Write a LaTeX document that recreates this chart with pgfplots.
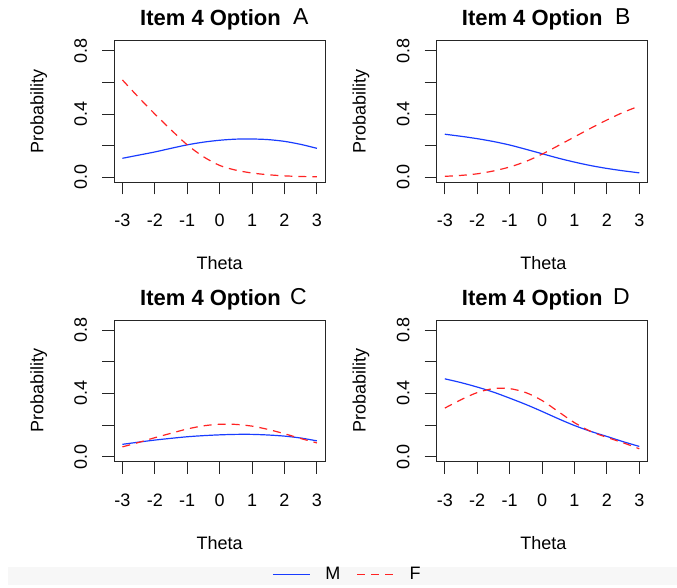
\documentclass[border=0pt]{standalone}
\usepackage{fontspec}
\setmainfont{Liberation Sans}
\usepackage{pgfplots}
\pgfplotsset{compat=1.18}

\definecolor{mblue}{RGB}{25,60,255}
\definecolor{fred}{RGB}{255,35,35}

\pgfplotsset{
  panel/.style={
    scale only axis,
    width=210.7pt, height=141.6pt,
    anchor=south west,
    xmin=-3.25, xmax=3.25,
    ymin=-0.0316, ymax=0.863,
    xtick={-3,-2,-1,0,1,2,3},
    ytick={0,0.4,0.8},
    minor ytick={0.2,0.6},
    xtick pos=bottom, ytick pos=left,
    tick align=outside,
    major tick length=12pt, minor tick length=12pt,
    every tick/.style={black!85, line width=0.9pt},
    minor tick style={black!85, line width=0.9pt},
    axis line style={black!85, line width=0.9pt},
    /pgf/number format/assume math mode=true,
    tick label style={font=\fontsize{18}{21.6}\selectfont},
    xticklabel style={anchor=base, inner sep=0pt, yshift=-32.7pt},
    yticklabel style={rotate=90, anchor=south, inner sep=0pt},
    yticklabel shift=15pt,
    yticklabel={\pgfmathprintnumber[fixed,fixed zerofill,precision=1]{\tick}},
    clip=false,
  },
  mline/.style={mblue, line width=1.2pt, smooth},
  fline/.style={fred, line width=1.2pt, smooth, dash pattern=on 8pt off 6pt},
}

\begin{document}
\begin{tikzpicture}[font=\fontsize{18}{21.6}\selectfont]
\useasboundingbox (0pt,0pt) rectangle (677pt,588pt);
\fill[black!3] (8pt,3pt) rectangle (677pt,21pt);

% ---------- Panel A ----------
\begin{axis}[panel, at={(114.3pt,405.7pt)}]
\addplot[mline] coordinates {(-3,0.12) (-2.5,0.14) (-2,0.16) (-1.5,0.183) (-1,0.205) (-0.5,0.222) (0,0.234) (0.5,0.241) (1,0.242) (1.5,0.238) (2,0.227) (2.5,0.208) (3,0.183)};
\addplot[fline] coordinates {(-3,0.615) (-2.5,0.505) (-2,0.40) (-1.5,0.30) (-1,0.205) (-0.5,0.13) (0,0.075) (0.5,0.045) (1,0.027) (1.5,0.016) (2,0.009) (2.5,0.005) (3,0.003)};
\end{axis}

% ---------- Panel B ----------
\begin{axis}[panel, at={(436.7pt,405.7pt)}]
\addplot[mline] coordinates {(-3,0.272) (-2.5,0.259) (-2,0.244) (-1.5,0.226) (-1,0.204) (-0.5,0.177) (0,0.149) (0.5,0.121) (1,0.096) (1.5,0.074) (2,0.056) (2.5,0.041) (3,0.028)};
\addplot[fline] coordinates {(-3,0.006) (-2.5,0.012) (-2,0.022) (-1.5,0.04) (-1,0.065) (-0.5,0.1) (0,0.146) (0.5,0.2) (1,0.255) (1.5,0.31) (2,0.362) (2.5,0.41) (3,0.45)};
\end{axis}

% ---------- Panel C ----------
\begin{axis}[panel, at={(114.3pt,126.3pt)},
  legend columns=2,
  legend image code/.code={\draw[#1] (0pt,0pt) -- (37pt,0pt);},
  legend style={at={(1.102,-0.796)}, anchor=center, draw=none, fill=none,
    inner sep=0pt, font=\fontsize{18}{21.6}\selectfont,
    nodes={inner sep=0pt},
    /tikz/every odd column/.append style={column sep=15pt},
    /tikz/every even column/.append style={column sep=16pt}},
]
\addplot[mline] coordinates {(-3,0.078) (-2.5,0.092) (-2,0.105) (-1.5,0.116) (-1,0.126) (-0.5,0.133) (0,0.138) (0.5,0.141) (1,0.141) (1.5,0.137) (2,0.13) (2.5,0.118) (3,0.1)};
\addlegendentry{M}
\addplot[fline] coordinates {(-3,0.062) (-2.5,0.09) (-2,0.12) (-1.5,0.148) (-1,0.175) (-0.5,0.195) (0,0.205) (0.5,0.204) (1,0.193) (1.5,0.172) (2,0.145) (2.5,0.115) (3,0.087)};
\addlegendentry{F}
\end{axis}

% ---------- Panel D ----------
\begin{axis}[panel, at={(436.7pt,126.3pt)}]
\addplot[mline] coordinates {(-3,0.492) (-2.5,0.468) (-2,0.44) (-1.5,0.408) (-1,0.37) (-0.5,0.33) (0,0.286) (0.5,0.24) (1,0.197) (1.5,0.16) (2,0.128) (2.5,0.095) (3,0.065)};
\addplot[fline] coordinates {(-3,0.307) (-2.5,0.36) (-2,0.405) (-1.5,0.43) (-1,0.43) (-0.5,0.405) (0,0.355) (0.5,0.285) (1,0.215) (1.5,0.16) (2,0.122) (2.5,0.088) (3,0.05)};
\end{axis}

% ---------- Titles ----------
\begin{scope}[every node/.style={inner sep=0pt, anchor=base west}]
\node[font=\fontsize{22}{26}\selectfont\bfseries] at (140pt,562pt) {Item 4 Option};
\node[font=\fontsize{23}{26}\selectfont] at (293pt,563pt) {A};
\node[font=\fontsize{22}{26}\selectfont\bfseries] at (461.7pt,562pt) {Item 4 Option};
\node[font=\fontsize{23}{26}\selectfont] at (615pt,563pt) {B};
\node[font=\fontsize{22}{26}\selectfont\bfseries] at (140pt,282pt) {Item 4 Option};
\node[font=\fontsize{23}{26}\selectfont] at (290pt,283pt) {C};
\node[font=\fontsize{22}{26}\selectfont\bfseries] at (461.7pt,282pt) {Item 4 Option};
\node[font=\fontsize{23}{26}\selectfont] at (613pt,283pt) {D};
\end{scope}

% ---------- Axis labels ----------
\begin{scope}[every node/.style={inner sep=0pt}]
\node[rotate=90, anchor=base] at (43.3pt,476.5pt) {Probability};
\node[rotate=90, anchor=base] at (365.7pt,476.5pt) {Probability};
\node[rotate=90, anchor=base] at (43.3pt,197.5pt) {Probability};
\node[rotate=90, anchor=base] at (365.7pt,197.5pt) {Probability};
\node[anchor=base] at (219.7pt,318pt) {Theta};
\node[anchor=base] at (543.3pt,318pt) {Theta};
\node[anchor=base] at (219.7pt,38pt) {Theta};
\node[anchor=base] at (543.3pt,38pt) {Theta};
\end{scope}
\end{tikzpicture}
\end{document}
